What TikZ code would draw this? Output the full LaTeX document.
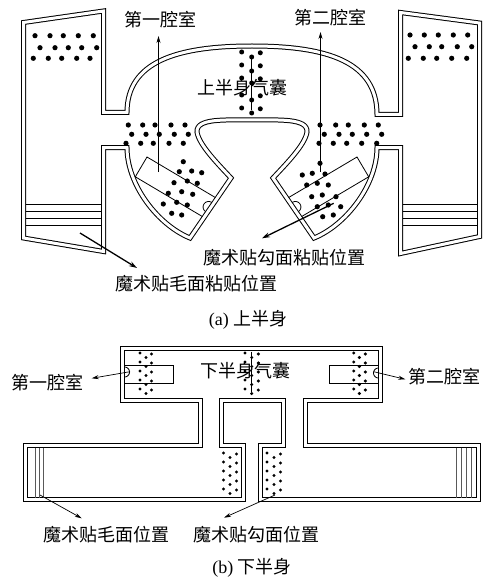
\documentclass[tikz,border=0pt]{standalone}
\usepackage{fontspec}
\setmainfont{Liberation Serif}
\newfontfamily\cjk{Noto Sans CJK SC}
\usetikzlibrary{arrows.meta}
\begin{document}
\begin{tikzpicture}[x=1pt,y=-1pt,
  wall/.style={draw=black, line width=1pt, double=white, double distance=3pt, line join=miter},
  lbl/.style={font=\cjk\fontsize{18}{20}\selectfont, inner sep=0pt},
  captext/.style={font=\fontsize{18}{20}\selectfont, inner sep=0pt},
  ptr/.style={line width=0.7pt, -{Stealth[length=7pt,width=4pt]}},
  bold ptr/.style={line width=1.3pt, -{Stealth[length=8pt,width=5pt]}},
  thinline/.style={line width=0.8pt},
  greyline/.style={line width=0.7pt, draw=black!65},
  chamber/.style={line width=0.8pt}]
\useasboundingbox (0,0) rectangle (484,583);

% ---------------- upper body airbag ----------------
\draw[wall] (23.5,22.5) -- (103.5,11) -- (103.5,112.5) -- (127,112.5)
  .. controls (127,62) and (176,46) .. (252,46)
  .. controls (328,46) and (377,62) .. (377,114.5)
  -- (400.5,114.5) -- (400.5,12.5) -- (479.5,23) -- (479.5,236.5) -- (400.5,253.5)
  -- (400.5,147.5) -- (377,147.5)
  .. controls (377,185) and (346,225) .. (314,238)
  -- (273,178)
  .. controls (286,164) and (305,145) .. (307,132)
  .. controls (308,118) and (279,120) .. (252,120)
  .. controls (225,120) and (196,118) .. (197,132)
  .. controls (199,145) and (218,164) .. (231,178)
  -- (190,238)
  .. controls (158,225) and (127,185) .. (127,147.5)
  -- (103.5,147.5) -- (103.5,251.5) -- (23.5,238) -- cycle;

% hook-and-loop strips in the side panels
\foreach \yy in {204.5,211.5,218.5,225.5} {
  \draw[thinline] (25.5,\yy) -- (101.5,\yy);
  \draw[thinline] (402.5,\yy) -- (477.5,\yy);
}

% chambers in the two lobes
\draw[chamber] (215.3,197.5) -- (147,157) -- (135.3,176.8) -- (202.3,216.5);
\draw[chamber] (288.7,197.5) -- (357,157) -- (368.7,176.8) -- (301.7,216.5);
\draw[chamber] plot[domain=-55.7:-235.7, samples=25] ({208.6+5.5*cos(\x)}, {207+5.5*sin(\x)});
\draw[chamber] plot[domain=-124.3:55.7, samples=25] ({295.4+5.5*cos(\x)}, {207+5.5*sin(\x)});

% stitching dots
\foreach \xx/\yy in {35/35.7,50/35.7,63.3/35.7,78.3/35.7,93.3/35.7,
                     40/47.7,55/47.7,68.3/47.7,81.7/47.7,96.7/47.7,
                     33.3/58.3,48.3/58.3,61.7/58.3,76.7/58.3,90/58.3,
                     410/35,424.3/35,438.3/35,453.3/35,467.7/35,
                     415/46.7,429.3/46.7,441.7/46.7,457.3/46.7,471.7/46.7,
                     408.3/58.3,423.3/58.3,436.7/58.3,451.7/58.3,466.7/58.3,
                     128.3/125,142.7/125,155/125,171/125,185/125,
                     131.7/134.3,146/134.3,159.3/134.3,174.3/134.3,188.3/134.3,
                     126/143.3,140.7/143.3,153.3/143.3,169/143.3,183.3/143.3,
                     320/125,335.7/125,348.3/125,364.3/125,378.3/125,
                     324.3/134.3,339/134.3,352.3/134.3,366.7/134.3,381.7/134.3,
                     319/143.3,333.3/143.3,346.7/143.3,361.7/143.3,376.7/143.3,
                     183.3/161.7,179.3/171.7,191.7/171,201.7/172.7,174/182.7,187.3/181,
                     197.3/183.3,168.3/193.3,181.7/191.7,192.7/194.3,163.3/204,176.7/202.3,
                     187.3/205,171.7/213.3,181.7/215,
                     320/163.3,302.3/175,312.3/173.3,325/174,306.7/185,317.3/183.3,
                     328.3/185,311.7/196.7,322.3/195,336/196.7,317.3/206.7,328.3/205,
                     340.7/206.7,322.7/216.7,333.3/215}
  \fill (\xx,\yy) circle[radius=2.6];
\foreach \yy/\ym in {52/57,65/71,78/83,95/100,108/113} {
  \fill (241.7,\yy) circle[radius=2.5];
  \fill (260.3,{\yy+0.8}) circle[radius=2.5];
  \fill (251.7,\ym) circle[radius=2.5];
}
\draw[thinline] (251.5,55) -- (251.5,110);

% labels and pointers
\node[lbl] (u1) at (160,20) {第一腔室};
\node[lbl] (u2) at (330,18) {第二腔室};
\node[lbl] (ubag) at (242.5,87.5) {上半身气囊};
\node[lbl] (uhook) at (284.5,257.5) {魔术贴勾面粘贴位置};
\node[lbl] (uloop) at (196,284) {魔术贴毛面粘贴位置};
\node[captext] (capa) at (248,320) {(a) {\cjk 上半身}};

\coordinate (u1s) at (158.5,172);   \coordinate (u1t) at (158.5,36);
\coordinate (u2s) at (320.5,172);   \coordinate (u2t) at (320.5,32);
\coordinate (uhs) at (333.7,203.3); \coordinate (uht) at (262,238.3);
\coordinate (uls) at (80,233);      \coordinate (ult) at (137,268);
\draw[ptr] (u1s) -- (u1t);
\draw[ptr] (u2s) -- (u2t);
\draw[bold ptr] (uhs) -- (uht);
\draw[bold ptr] (uls) -- (ult);

% ---------------- lower body airbag ----------------
\draw[wall] (122.5,348.5) -- (380.5,348.5) -- (380.5,400.5) -- (305.5,400.5) -- (305.5,445.5)
  -- (478.5,445.5) -- (478.5,499.5) -- (260.5,499.5) -- (260.5,445.5) -- (283.5,445.5)
  -- (283.5,400.5) -- (221.5,400.5) -- (221.5,445.5) -- (243.5,445.5) -- (243.5,499.5)
  -- (25.5,499.5) -- (25.5,445.5) -- (200.5,445.5) -- (200.5,400.5) -- (122.5,400.5) -- cycle;

% chambers
\draw[chamber] (124.5,365) -- (173.5,365) -- (173.5,383.5) -- (124.5,383.5);
\draw[chamber] (378.5,365) -- (329.5,365) -- (329.5,383.5) -- (378.5,383.5);
\draw[chamber] plot[domain=-90:90, samples=20] ({124.5+5*cos(\x)}, {372+5*sin(\x)});
\draw[chamber] plot[domain=90:270, samples=20] ({378.5+5*cos(\x)}, {373+5*sin(\x)});

% strips at the ends of the belt
\foreach \xx in {35.5,39.5,43.5} \draw[greyline] (\xx,447.5) -- (\xx,497.5);
\foreach \xx in {456.5,461.5,466.5,471.5} \draw[greyline] (\xx,447.5) -- (\xx,497.5);

% stitching dots
\foreach \l/\m/\r in {140/146/151.5, 245/251.7/258.3, 353.7/359.3/365.3}
  \foreach \k in {0,...,4} {
    \fill (\l,{353+9*\k}) circle[radius=1.7];
    \fill (\r,{354+9*\k}) circle[radius=1.7];
    \fill (\m,{357.5+9*\k}) circle[radius=1.7];
  }
\foreach \l/\m/\r in {223.5/230/236.5, 267/274/280.5}
  \foreach \k in {0,...,4} {
    \fill (\l,{453+9*\k}) circle[radius=1.7];
    \fill (\r,{454+9*\k}) circle[radius=1.7];
    \fill (\m,{457.5+9*\k}) circle[radius=1.7];
  }
\draw[thinline] (251.5,351.7) -- (251.5,391.7);

% labels and pointers
\node[lbl] (l1) at (47,383) {第一腔室};
\node[lbl] (l2) at (444.5,377) {第二腔室};
\node[lbl] (lbag) at (245,371) {下半身气囊};
\node[lbl] (lloop) at (106,535) {魔术贴毛面位置};
\node[lbl] (lhook) at (256,535) {魔术贴勾面位置};
\node[captext] (capb) at (252,568) {(b) {\cjk 下半身}};

\coordinate (l1s) at (130,371.7);  \coordinate (l1t) at (91.7,378.3);
\coordinate (l2s) at (373.7,371.7);\coordinate (l2t) at (405.3,379.3);
\coordinate (lls) at (40,495);     \coordinate (llt) at (81.7,518.3);
\coordinate (lhs) at (275,495);    \coordinate (lht) at (224,517.7);
\draw[ptr] (l1s) -- (l1t);
\draw[ptr] (l2s) -- (l2t);
\draw[ptr] (lls) -- (llt);
\draw[ptr] (lhs) -- (lht);
\end{tikzpicture}
\end{document}
